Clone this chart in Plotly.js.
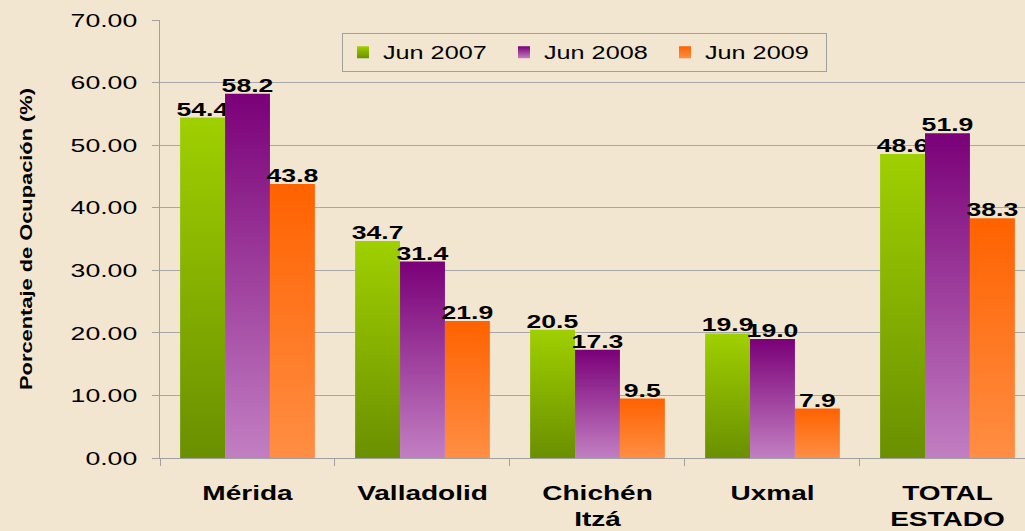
<!DOCTYPE html>
<html><head><meta charset="utf-8">
<script src="https://cdn.plot.ly/plotly-3.0.1.min.js"></script>
<style>html,body{margin:0;padding:0;background:#f2e5cf;overflow:hidden}</style>
</head><body>
<div id="chart" style="width:1025px;height:531px"></div>
<script>
const categories = ['Mérida', 'Valladolid', 'Chichén<br>Itzá', 'Uxmal', 'TOTAL<br>ESTADO'];
const seriesNames = ['Jun 2007', 'Jun 2008', 'Jun 2009'];
const jun2007 = [54.4, 34.7, 20.5, 19.9, 48.6];
const jun2008 = [58.2, 31.4, 17.3, 19.0, 51.9];
const jun2009 = [43.8, 21.9, 9.5, 7.9, 38.3];
const yTicks = [0, 10, 20, 30, 40, 50, 60, 70];
const yTitle = 'Porcentaje de Ocupación (%)';

const seriesValues = [jun2007, jun2008, jun2009];
const gradients = [['#9fd000', '#6a9000'], ['#7a0078', '#c27fc2'], ['#ff6200', '#ff8e44']];
const FONT = 'Liberation Sans, Arial, sans-serif';

const data = seriesValues.map((vals, i) => ({
  type: 'bar',
  name: seriesNames[i],
  x: categories,
  y: vals,
  text: vals.map(v => v.toFixed(1)),
  textposition: 'outside',
  constraintext: 'none',
  cliponaxis: false,
  textfont: {family: FONT, size: 19, color: '#000', weight: 'bold'},
  marker: {color: gradients[i][0], line: {width: 0}},
  hoverinfo: 'skip'
}));

const layout = {
  width: 1025, height: 531,
  margin: {l: 160, r: 0, t: 20, b: 73},
  paper_bgcolor: '#f3e6d0', plot_bgcolor: '#f3e6d0',
  barmode: 'group', bargap: 0.23, bargroupgap: 0,
  font: {family: FONT, color: '#000'},
  xaxis: {
    type: 'category', range: [-0.5, 4.443],
    showline: true, linecolor: '#a0a0a0', linewidth: 1,
    ticks: 'outside', tickson: 'boundaries', ticklen: 7, tickcolor: '#a0a0a0',
    tickfont: {family: FONT, size: 20, color: '#000', weight: 'bold'},
    ticklabelstandoff: 17, showgrid: false
  },
  yaxis: {
    range: [0, 70], tickvals: yTicks, tickformat: '.2f',
    showline: true, linecolor: '#a0a0a0', linewidth: 1,
    ticks: 'outside', ticklen: 7, tickcolor: '#a0a0a0',
    gridcolor: '#a8a8a8', gridwidth: 1, zeroline: false,
    tickfont: {family: FONT, size: 19, color: '#000'},
    ticklabelstandoff: 11,
    title: {text: yTitle, font: {family: FONT, size: 17, weight: 'bold', color: '#000'}, standoff: 52}
  },
  legend: {
    orientation: 'h', x: 0.2104, xanchor: 'left', y: 0.97, yanchor: 'top',
    bordercolor: '#a0a0a0', borderwidth: 1, bgcolor: 'rgba(0,0,0,0)',
    font: {family: FONT, size: 18, color: '#000'},
    entrywidth: 116, traceorder: 'normal'
  },
  showlegend: true
};

const gd = document.getElementById('chart');
Plotly.newPlot(gd, data, layout, {displayModeBar: false, staticPlot: true}).then(() => {
  const ns = 'http://www.w3.org/2000/svg';
  const svg = gd.querySelector('svg.main-svg');
  let defs = svg.querySelector('defs');
  if (!defs) { defs = document.createElementNS(ns, 'defs'); svg.insertBefore(defs, svg.firstChild); }
  gradients.forEach((g, i) => {
    const lg = document.createElementNS(ns, 'linearGradient');
    lg.setAttribute('id', 'barGrad' + i);
    lg.setAttribute('x1', '0'); lg.setAttribute('y1', '0');
    lg.setAttribute('x2', '0'); lg.setAttribute('y2', '1');
    g.forEach((c, k) => {
      const s = document.createElementNS(ns, 'stop');
      s.setAttribute('offset', k === 0 ? '0' : '1');
      s.setAttribute('stop-color', c);
      lg.appendChild(s);
    });
    defs.appendChild(lg);
  });
  gd.querySelectorAll('.barlayer .trace').forEach((t, i) => {
    t.querySelectorAll('path').forEach(p => { p.style.fill = 'url(#barGrad' + i + ')'; });
  });
  gd.querySelectorAll('.legend .traces').forEach((t, i) => {
    t.querySelectorAll('.legendpoints path').forEach(p => { p.style.fill = 'url(#barGrad' + i + ')'; });
  });
  function stretch(el, f) {
    const lines = el.querySelectorAll('tspan.line');
    const targets = lines.length ? Array.from(lines) : [el];
    targets.forEach(t => {
      const L = t.getComputedTextLength();
      t.setAttribute('textLength', (L * f).toFixed(1));
      t.setAttribute('lengthAdjust', 'spacingAndGlyphs');
    });
  }
  gd.querySelectorAll('.xtick text, .ytick text, text.legendtext, text.bartext').forEach(el => stretch(el, 1.4));
  gd.querySelectorAll('text.bartext').forEach(el => {
    const tr = el.getAttribute('transform') || '';
    el.setAttribute('transform', tr + ' translate(0,5)');
  });
  const yt = gd.querySelector('text.ytitle');
  if (yt) { yt.setAttribute('textLength', '302'); yt.setAttribute('lengthAdjust', 'spacingAndGlyphs'); }
});
</script>
</body></html>
